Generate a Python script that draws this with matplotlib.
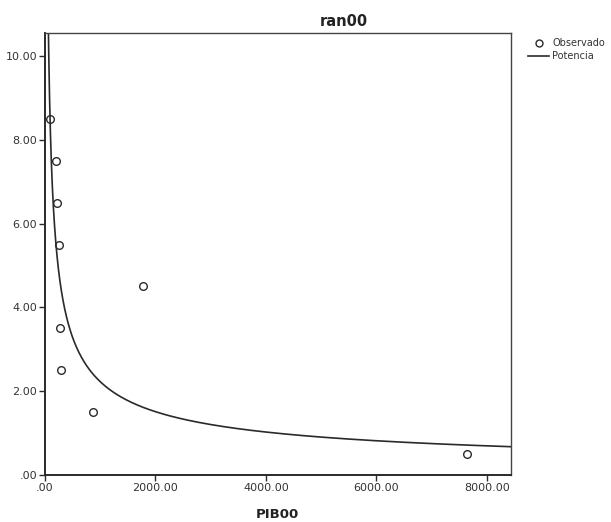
import numpy as np
import matplotlib
matplotlib.use("Agg")
import matplotlib.pyplot as plt
from matplotlib.lines import Line2D

# Observed values
pib00 = [91, 199, 223, 254, 1770, 272, 284, 864, 7640]
ran00 = [8.5, 7.5, 6.5, 5.5, 4.5, 3.5, 2.5, 1.5, 0.5]

x_ticks = [0, 2000, 4000, 6000, 8000]
x_ticklabels = [".00", "2000.00", "4000.00", "6000.00", "8000.00"]
y_ticks = [0, 2, 4, 6, 8, 10]
y_ticklabels = [".00", "2.00", "4.00", "6.00", "8.00", "10.00"]

plt.rcParams["font.family"] = ["DejaVu Sans"]

fig = plt.figure(figsize=(6.11, 5.22), dpi=100)
ax = fig.add_axes([45 / 611, 1 - 475 / 522, 466 / 611, 442 / 522])

# Power model y = a * x^b fitted on log-log scale
b, log_a = np.polyfit(np.log(pib00), np.log(ran00), 1)
xs = np.geomspace(5, 8500, 600)
ys = np.exp(log_a) * xs ** b

ink = "#2a2a2a"
ax.plot(xs, ys, color=ink, lw=1.2, zorder=2)
ax.plot(pib00, ran00, linestyle="none", marker="o", markersize=5.5,
        markerfacecolor="none", markeredgecolor=ink, markeredgewidth=1.0,
        zorder=3)

ax.set_xlim(0, 8440)
ax.set_ylim(0, 10.55)
ax.set_xticks(x_ticks)
ax.set_xticklabels(x_ticklabels)
ax.set_yticks(y_ticks)
ax.set_yticklabels(y_ticklabels)
ax.tick_params(axis="both", direction="out", length=4, width=1.0,
               color=ink, labelsize=8, labelcolor="#333333", pad=1.5)
ax.tick_params(top=False, right=False)

for side in ["left", "bottom"]:
    ax.spines[side].set_linewidth(1.4)
    ax.spines[side].set_color(ink)
for side in ["top", "right"]:
    ax.spines[side].set_linewidth(1.0)
    ax.spines[side].set_color("#444444")

fig.text(344 / 611, 1 - 21 / 522, "ran00", ha="center", va="center",
         fontsize=10.5, fontweight="bold", color="#222222")
fig.text(277 / 611, 1 - 515 / 522, "PIB00", ha="center", va="center",
         fontsize=9.5, fontweight="bold", color="#222222")

handles = [
    Line2D([], [], linestyle="none", marker="o", markersize=5,
           markerfacecolor="none", markeredgecolor=ink, markeredgewidth=1.0),
    Line2D([], [], color=ink, lw=1.2),
]
fig.legend(handles, ["Observado", "Potencia"], loc="upper left",
           bbox_to_anchor=(528 / 611, 1 - 38 / 522), frameon=False,
           fontsize=7, handlelength=2.2, handletextpad=0.3,
           labelspacing=0.35, borderpad=0, borderaxespad=0,
           labelcolor="#333333")

fig.savefig("out.png", dpi=100)
